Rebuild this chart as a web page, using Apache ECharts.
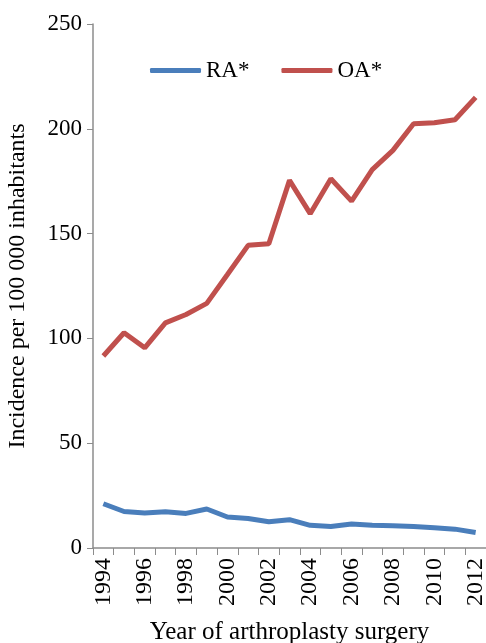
<!DOCTYPE html>
<html><head><meta charset="utf-8">
<script src="https://cdn.jsdelivr.net/npm/echarts@6/dist/echarts.min.js"></script>
<style>html,body{margin:0;padding:0;background:#fff}#c{width:486px;height:643px}</style>
</head><body><div id="c"></div>
<script>
const years = ['1994','1995','1996','1997','1998','1999','2000','2001','2002','2003','2004','2005','2006','2007','2008','2009','2010','2011','2012'];
const ra = [21.1,17.4,16.7,17.3,16.5,18.6,14.8,14.1,12.5,13.5,10.8,10.3,11.4,10.9,10.6,10.3,9.7,9.0,7.4];
const oa = [91.6,102.7,95.5,107.4,111.4,116.7,130.5,144.4,145.2,175.4,159.5,176.2,165.5,180.5,189.7,202.4,202.9,204.3,215.0];
const yTicks = {min:0, max:250, interval:50};
const font = '"Liberation Serif","DejaVu Serif",serif';
const chart = echarts.init(document.getElementById('c'), null, {renderer:'canvas'});
chart.setOption({
  animation:false,
  textStyle:{fontFamily:font},
  legend:{
    top:54, left:145, itemGap:32, itemWidth:51, itemHeight:5,
    icon:'roundRect',
    textStyle:{fontFamily:font, fontSize:23, color:'#000'},
    data:['RA*','OA*']
  },
  grid:{left:93, right:0, top:24, bottom:95, containLabel:false, outerBoundsMode:'none'},
  xAxis:{
    type:'category', data:years, boundaryGap:true,
    name:'Year of arthroplasty surgery', nameLocation:'middle', nameGap:72,
    nameTextStyle:{fontFamily:font, fontSize:25, color:'#000'},
    axisLine:{lineStyle:{color:'#8c8c8c', width:1.5}},
    axisTick:{show:true, interval:0, length:7, lineStyle:{color:'#8c8c8c'}},
    axisLabel:{interval:1, rotate:90, margin:10, fontFamily:font, fontSize:24, color:'#000'}
  },
  yAxis:{
    type:'value', min:yTicks.min, max:yTicks.max, interval:yTicks.interval,
    name:'Incidence per 100 000 inhabitants', nameLocation:'middle', nameGap:63,
    nameTextStyle:{fontFamily:font, fontSize:24, color:'#000'},
    axisLine:{show:true, lineStyle:{color:'#8c8c8c', width:1.5}},
    axisTick:{show:true, length:6, lineStyle:{color:'#8c8c8c'}},
    splitLine:{show:false},
    axisLabel:{margin:11, fontFamily:font, fontSize:23, color:'#000'}
  },
  series:[
    {name:'RA*', type:'line', data:ra, symbol:'none', lineStyle:{color:'#4a7ebb', width:5}, itemStyle:{color:'#4a7ebb'}},
    {name:'OA*', type:'line', data:oa, symbol:'none', lineStyle:{color:'#c0504d', width:5}, itemStyle:{color:'#c0504d'}}
  ]
});
</script></body></html>
